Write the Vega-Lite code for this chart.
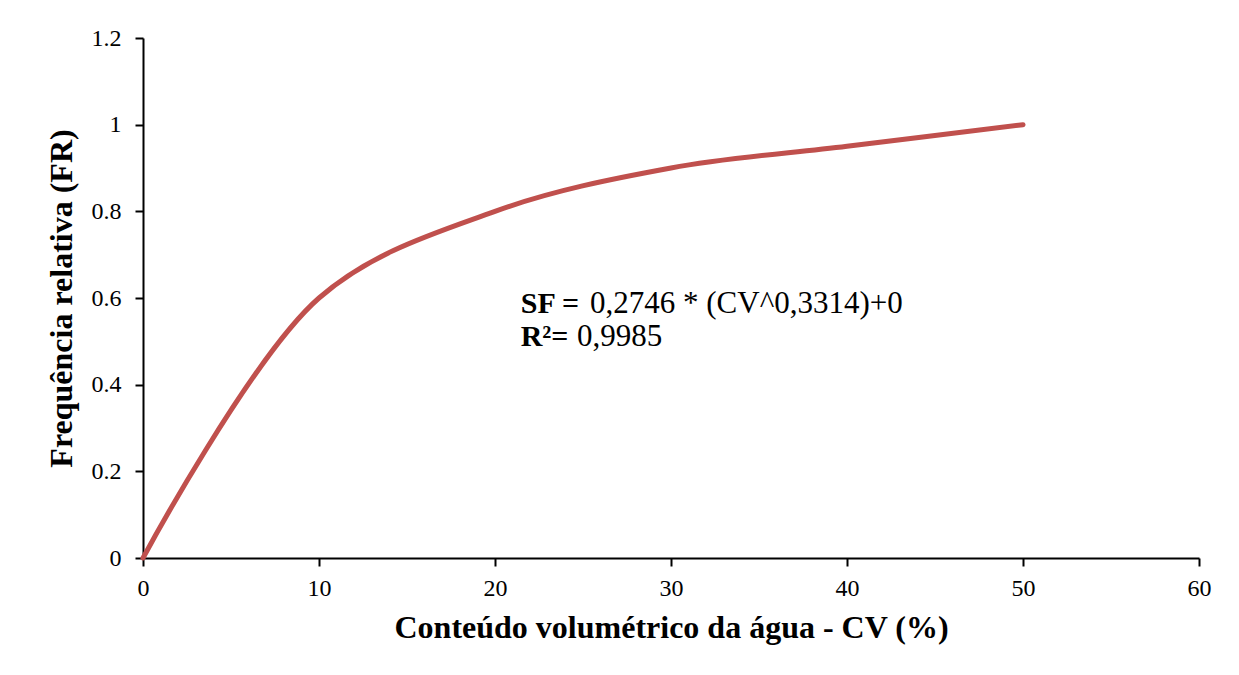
{
  "$schema": "https://vega.github.io/schema/vega-lite/v6.json",
  "width": 1056,
  "height": 520,
  "autosize": {"type": "none"},
  "padding": {"left": 143, "top": 38, "right": 40, "bottom": 117},
  "config": {
    "view": {"stroke": null}
  },
  "datasets": {
    "curve": [
      {"cv": 0, "fr": 0},
      {"cv": 10, "fr": 0.6},
      {"cv": 20, "fr": 0.8},
      {"cv": 30, "fr": 0.9},
      {"cv": 40, "fr": 0.95},
      {"cv": 50, "fr": 1.0}
    ],
    "notes": [
      {"part": "bold", "x": 21.46, "y": 0.5654, "label": "SF ="},
      {"part": "normal", "x": 25.4, "y": 0.5654, "label": "0,2746 * (CV^0,3314)+0"},
      {"part": "bold", "x": 21.46, "y": 0.4892, "label": "R²="},
      {"part": "normal", "x": 24.66, "y": 0.4892, "label": "0,9985"}
    ]
  },
  "layer": [
    {
      "data": {"name": "curve"},
      "mark": {"type": "line", "interpolate": "catmull-rom", "color": "#C0504D", "strokeWidth": 5, "strokeCap": "round"},
      "encoding": {
        "x": {
          "field": "cv", "type": "quantitative",
          "scale": {"domain": [0, 60], "nice": false},
          "axis": {
            "values": [0, 10, 20, 30, 40, 50, 60], "grid": false,
            "domainColor": "black", "domainWidth": 2, "tickColor": "black", "tickWidth": 2, "tickSize": 8,
            "labelFlush": false, "labelFont": "Liberation Serif", "labelFontSize": 24, "labelColor": "black", "labelPadding": 10,
            "titleFont": "Liberation Serif", "titleFontSize": 32, "titleFontWeight": "bold", "titleColor": "black", "titlePadding": 12,
            "title": "Conteúdo volumétrico da água - CV (%)"
          }
        },
        "y": {
          "field": "fr", "type": "quantitative",
          "scale": {"domain": [0, 1.2], "nice": false},
          "axis": {
            "values": [0, 0.2, 0.4, 0.6, 0.8, 1, 1.2], "format": "~g", "grid": false,
            "domainColor": "black", "domainWidth": 2, "tickColor": "black", "tickWidth": 2, "tickSize": 8,
            "labelFlush": false, "labelFont": "Liberation Serif", "labelFontSize": 24, "labelColor": "black", "labelPadding": 14,
            "titleFont": "Liberation Serif", "titleFontSize": 32, "titleFontWeight": "bold", "titleColor": "black", "titlePadding": 13,
            "title": "Frequência relativa (FR)"
          }
        }
      }
    },
    {
      "data": {"name": "notes"},
      "transform": [{"filter": "datum.part === 'normal'"}],
      "mark": {"type": "text", "align": "left", "baseline": "alphabetic", "font": "Liberation Serif", "fontSize": 31, "color": "black"},
      "encoding": {
        "x": {"field": "x", "type": "quantitative"},
        "y": {"field": "y", "type": "quantitative"},
        "text": {"field": "label"}
      }
    },
    {
      "data": {"name": "notes"},
      "transform": [{"filter": "datum.part === 'bold'"}],
      "mark": {"type": "text", "align": "left", "baseline": "alphabetic", "font": "Liberation Serif", "fontSize": 30, "fontWeight": "bold", "color": "black"},
      "encoding": {
        "x": {"field": "x", "type": "quantitative"},
        "y": {"field": "y", "type": "quantitative"},
        "text": {"field": "label"}
      }
    }
  ]
}
